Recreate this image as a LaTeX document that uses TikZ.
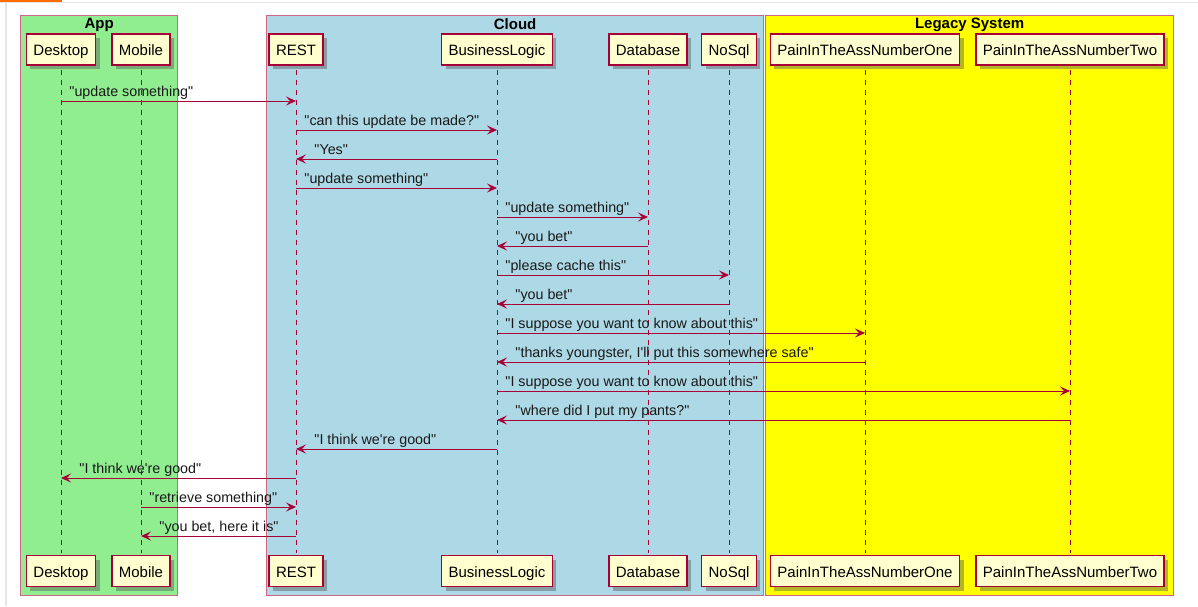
\documentclass[tikz,border=0pt]{standalone}
\usepackage{fontspec}
\newfontfamily\umlfont{Liberation Sans}
\usepackage{tikz}
\usetikzlibrary{arrows.meta,positioning,shadows}
\definecolor{umlred}{HTML}{A80036}
\definecolor{umlfill}{HTML}{FEFECE}
\definecolor{appgreen}{HTML}{90EE90}
\definecolor{cloudblue}{HTML}{ADD8E6}
\definecolor{legacyyellow}{HTML}{FFFF00}

\begin{document}
\begin{tikzpicture}[
                x=1pt, y=1pt,
                font=\umlfont,
                participant/.style={rectangle, draw=umlred, line width=1.4pt, fill=umlfill, minimum height=31pt, text height=13pt, text depth=1pt, inner xsep=7pt, font=\umlfont\fontsize{15}{18}\selectfont, drop shadow={shadow xshift=4pt, shadow yshift=-4pt, opacity=0.45, fill=black!65}},
                group/.style={rectangle, draw=umlred!60, line width=1.3pt, anchor=north west, minimum height=580pt, inner sep=0pt},
                grouptitle/.style={font=\umlfont\fontsize{15}{18}\selectfont\bfseries, inner sep=0pt},
                lifeline/.style={dash pattern=on 5pt off 5pt, umlred, line width=0.9pt},
                msg/.style={-{Stealth[length=10pt, width=9pt, inset=4pt]}, umlred, line width=0.9pt},
                lbl/.style={font=\umlfont\fontsize{14.3}{17}\selectfont, text=black!90, inner sep=0pt, anchor=base west, yshift=5pt},
                lblR/.style={lbl, pos=0, xshift=8pt},
                lblL/.style={lbl, pos=1, xshift=18pt},
            ]
            \useasboundingbox (0,0) rectangle (1198,-606);
            % page edge
            \draw[black!10, line width=1.5pt] (0,-2.5) -- (1198,-2.5);
            \draw[black!10, line width=1.5pt] (6,-2.5) -- (6,-606);
            \fill[orange!85!red] (0,0) rectangle (62,-2);

            % boxes
            \node[group, fill=appgreen, minimum width=157pt] (App) at (20,-15) {};
            \node[group, fill=cloudblue, minimum width=497pt] (Cloud) at (266,-15) {};
            \node[group, fill=legacyyellow, minimum width=408pt] (Legacy) at (765,-15) {};
            \node[grouptitle, below=3pt of App.north] {App};
            \node[grouptitle, below=3pt of Cloud.north] {Cloud};
            \node[grouptitle, below=3pt of Legacy.north] {Legacy System};

            % participants
            \node[participant] (D)  at (61,  -49.5) {Desktop};
            \node[participant] (M)  at (141, -49.5) {Mobile};
            \node[participant] (R)  at (296, -49.5) {REST};
            \node[participant] (BL) at (497, -49.5) {BusinessLogic};
            \node[participant] (DB) at (648, -49.5) {Database};
            \node[participant] (NS) at (729, -49.5) {NoSql};
            \node[participant] (P1) at (865, -49.5) {PainInTheAssNumberOne};
            \node[participant] (P2) at (1070,-49.5) {PainInTheAssNumberTwo};

            \node[participant] (D-b)  at (61,  -571) {Desktop};
            \node[participant] (M-b)  at (141, -571) {Mobile};
            \node[participant] (R-b)  at (296, -571) {REST};
            \node[participant] (BL-b) at (497, -571) {BusinessLogic};
            \node[participant] (DB-b) at (648, -571) {Database};
            \node[participant] (NS-b) at (729, -571) {NoSql};
            \node[participant] (P1-b) at (865, -571) {PainInTheAssNumberOne};
            \node[participant] (P2-b) at (1070,-571) {PainInTheAssNumberTwo};

            \foreach \p in {D,M,R,BL,DB,NS,P1,P2}
            \draw[lifeline] ([yshift=-4pt]\p.south) -- ([yshift=2pt]\p-b.north);

            % messages
            \pgfmathsetmacro{\r}{29}
            \pgfmathsetmacro{\y}{-101}
            \draw[msg] (D |- 0,\y) -- node[lblR]{"update something"} (R |- 0,\y);
            \pgfmathsetmacro{\y}{\y-\r}
            \draw[msg] (R |- 0,\y) -- node[lblR]{"can this update be made?"} (BL |- 0,\y);
            \pgfmathsetmacro{\y}{\y-\r}
            \draw[msg] (BL |- 0,\y) -- node[lblL]{"Yes"} (R |- 0,\y);
            \pgfmathsetmacro{\y}{\y-\r}
            \draw[msg] (R |- 0,\y) -- node[lblR]{"update something"} (BL |- 0,\y);
            \pgfmathsetmacro{\y}{\y-\r}
            \draw[msg] (BL |- 0,\y) -- node[lblR]{"update something"} (DB |- 0,\y);
            \pgfmathsetmacro{\y}{\y-\r}
            \draw[msg] (DB |- 0,\y) -- node[lblL]{"you bet"} (BL |- 0,\y);
            \pgfmathsetmacro{\y}{\y-\r}
            \draw[msg] (BL |- 0,\y) -- node[lblR]{"please cache this"} (NS |- 0,\y);
            \pgfmathsetmacro{\y}{\y-\r}
            \draw[msg] (NS |- 0,\y) -- node[lblL]{"you bet"} (BL |- 0,\y);
            \pgfmathsetmacro{\y}{\y-\r}
            \draw[msg] (BL |- 0,\y) -- node[lblR]{"I suppose you want to know about this"} (P1 |- 0,\y);
            \pgfmathsetmacro{\y}{\y-\r}
            \draw[msg] (P1 |- 0,\y) -- node[lblL]{"thanks youngster, I'll put this somewhere safe"} (BL |- 0,\y);
            \pgfmathsetmacro{\y}{\y-\r}
            \draw[msg] (BL |- 0,\y) -- node[lblR]{"I suppose you want to know about this"} (P2 |- 0,\y);
            \pgfmathsetmacro{\y}{\y-\r}
            \draw[msg] (P2 |- 0,\y) -- node[lblL]{"where did I put my pants?"} (BL |- 0,\y);
            \pgfmathsetmacro{\y}{\y-\r}
            \draw[msg] (BL |- 0,\y) -- node[lblL]{"I think we're good"} (R |- 0,\y);
            \pgfmathsetmacro{\y}{\y-\r}
            \draw[msg] (R |- 0,\y) -- node[lblL]{"I think we're good"} (D |- 0,\y);
            \pgfmathsetmacro{\y}{\y-\r}
            \draw[msg] (M |- 0,\y) -- node[lblR]{"retrieve something"} (R |- 0,\y);
            \pgfmathsetmacro{\y}{\y-\r}
            \draw[msg] (R |- 0,\y) -- node[lblL]{"you bet, here it is"} (M |- 0,\y);
        \end{tikzpicture}
\end{document}
